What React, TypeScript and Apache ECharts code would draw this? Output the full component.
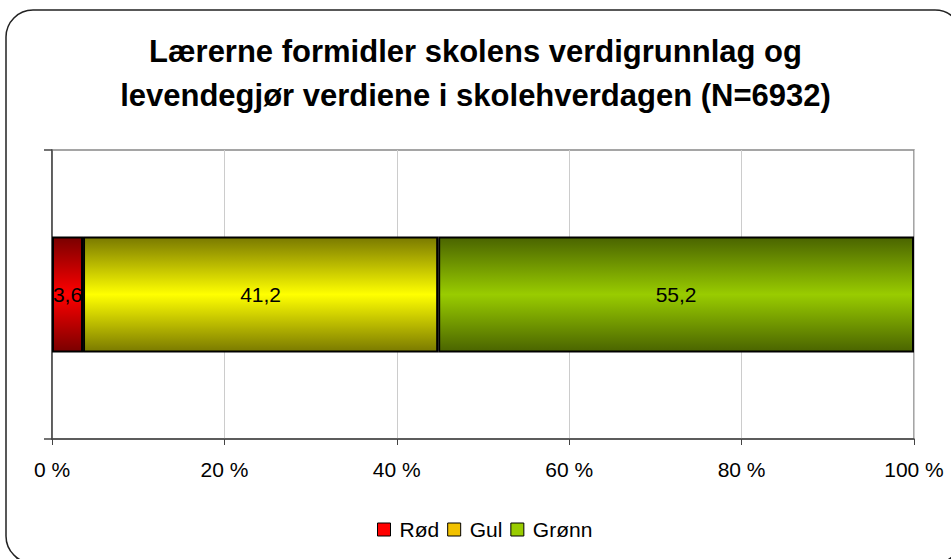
import React, { useEffect, useRef } from "react";
import * as echarts from "echarts";

const titleLines = [
  "Lærerne formidler skolens verdigrunnlag og",
  "levendegjør verdiene i skolehverdagen (N=6932)",
];
const categories = ["Lærerne formidler"];
const seriesNames = ["Rød", "Gul", "Grønn"];
const rodValues = [3.6];
const gulValues = [41.2];
const gronnValues = [55.2];
const xTicks = { min: 0, max: 100, interval: 20 };

const FONT = "'Liberation Sans', Arial, Helvetica, sans-serif";

const grad = (dark: string, bright: string) =>
  new echarts.graphic.LinearGradient(0, 0, 0, 1, [
    { offset: 0, color: dark },
    { offset: 0.5, color: bright },
    { offset: 1, color: dark },
  ]);

export default function App() {
  const ref = useRef<HTMLDivElement>(null);
  useEffect(() => {
    if (!ref.current) return;
    const chart = echarts.init(ref.current, undefined, { renderer: "svg" });
    const fills = [
      grad("#7a0000", "#ff0000"),
      grad("#7a7a00", "#ffff00"),
      grad("#4a6400", "#99cc00"),
    ];
    const legendColors = ["#ff0000", "#f2c200", "#99cc00"];
    const values = [rodValues, gulValues, gronnValues];
    chart.setOption({
      animation: false,
      backgroundColor: "#ffffff",
      textStyle: { fontFamily: FONT },
      graphic: [
        {
          type: "rect",
          shape: { x: 6, y: 10, width: 956, height: 553, r: 27 },
          style: {
            fill: "#ffffff",
            stroke: "#222222",
            lineWidth: 1.5,
            shadowColor: "rgba(0,0,0,0.9)",
            shadowOffsetX: 3,
            shadowOffsetY: 3,
            shadowBlur: 1,
          },
          z: -10,
          silent: true,
        },
      ],
      title: {
        text: titleLines.join("\n"),
        left: "center",
        top: 29,
        padding: 0,
        textStyle: {
          fontFamily: FONT,
          fontWeight: "bold",
          fontSize: 31,
          lineHeight: 44,
          color: "#000000",
        },
      },
      legend: {
        left: 377,
        top: 519,
        padding: 0,
        itemWidth: 13,
        itemHeight: 13,
        itemGap: 8,
        icon: "rect",
        textStyle: {
          fontFamily: FONT,
          fontSize: 21,
          color: "#000000",
          padding: [0, 0, 0, 4],
        },
        data: seriesNames.map((n, i) => ({
          name: n,
          itemStyle: { color: legendColors[i], borderColor: "#000000", borderWidth: 1 },
        })),
      },
      grid: {
        left: 52,
        right: 37,
        top: 150,
        bottom: 120,
        show: true,
        borderColor: "#888888",
        borderWidth: 1.5,
        backgroundColor: "transparent",
      },
      xAxis: {
        type: "value",
        min: xTicks.min,
        max: xTicks.max,
        interval: xTicks.interval,
        axisLine: { show: true, lineStyle: { color: "#444444", width: 1.5 } },
        axisTick: { show: true, length: 6, lineStyle: { color: "#444444" } },
        splitLine: { show: true, lineStyle: { color: "#cccccc", width: 1 } },
        axisLabel: {
          formatter: (v: number) => `${v} %`,
          fontFamily: FONT,
          fontSize: 21,
          color: "#000000",
          margin: 20,
        },
      },
      yAxis: {
        type: "category",
        data: categories,
        boundaryGap: true,
        axisLine: { show: true, lineStyle: { color: "#444444", width: 1.5 } },
        axisTick: { show: true, length: 8, lineStyle: { color: "#444444", width: 1.5 } },
        axisLabel: { show: false },
        splitLine: { show: false },
      },
      series: seriesNames.map((name, i) => ({
        name,
        type: "bar",
        stack: "total",
        barWidth: 116,
        data: values[i],
        itemStyle: { color: fills[i], borderColor: "#000000", borderWidth: 2 },
        label: {
          show: true,
          position: "inside",
          color: "#000000",
          fontFamily: FONT,
          fontSize: 21,
          formatter: (p: any) => String(p.value).replace(".", ","),
        },
      })),
    });
    return () => chart.dispose();
  }, []);
  return (
    <div
      ref={ref}
      style={{ position: "fixed", left: 0, top: 0, width: 951, height: 559 }}
    />
  );
}
